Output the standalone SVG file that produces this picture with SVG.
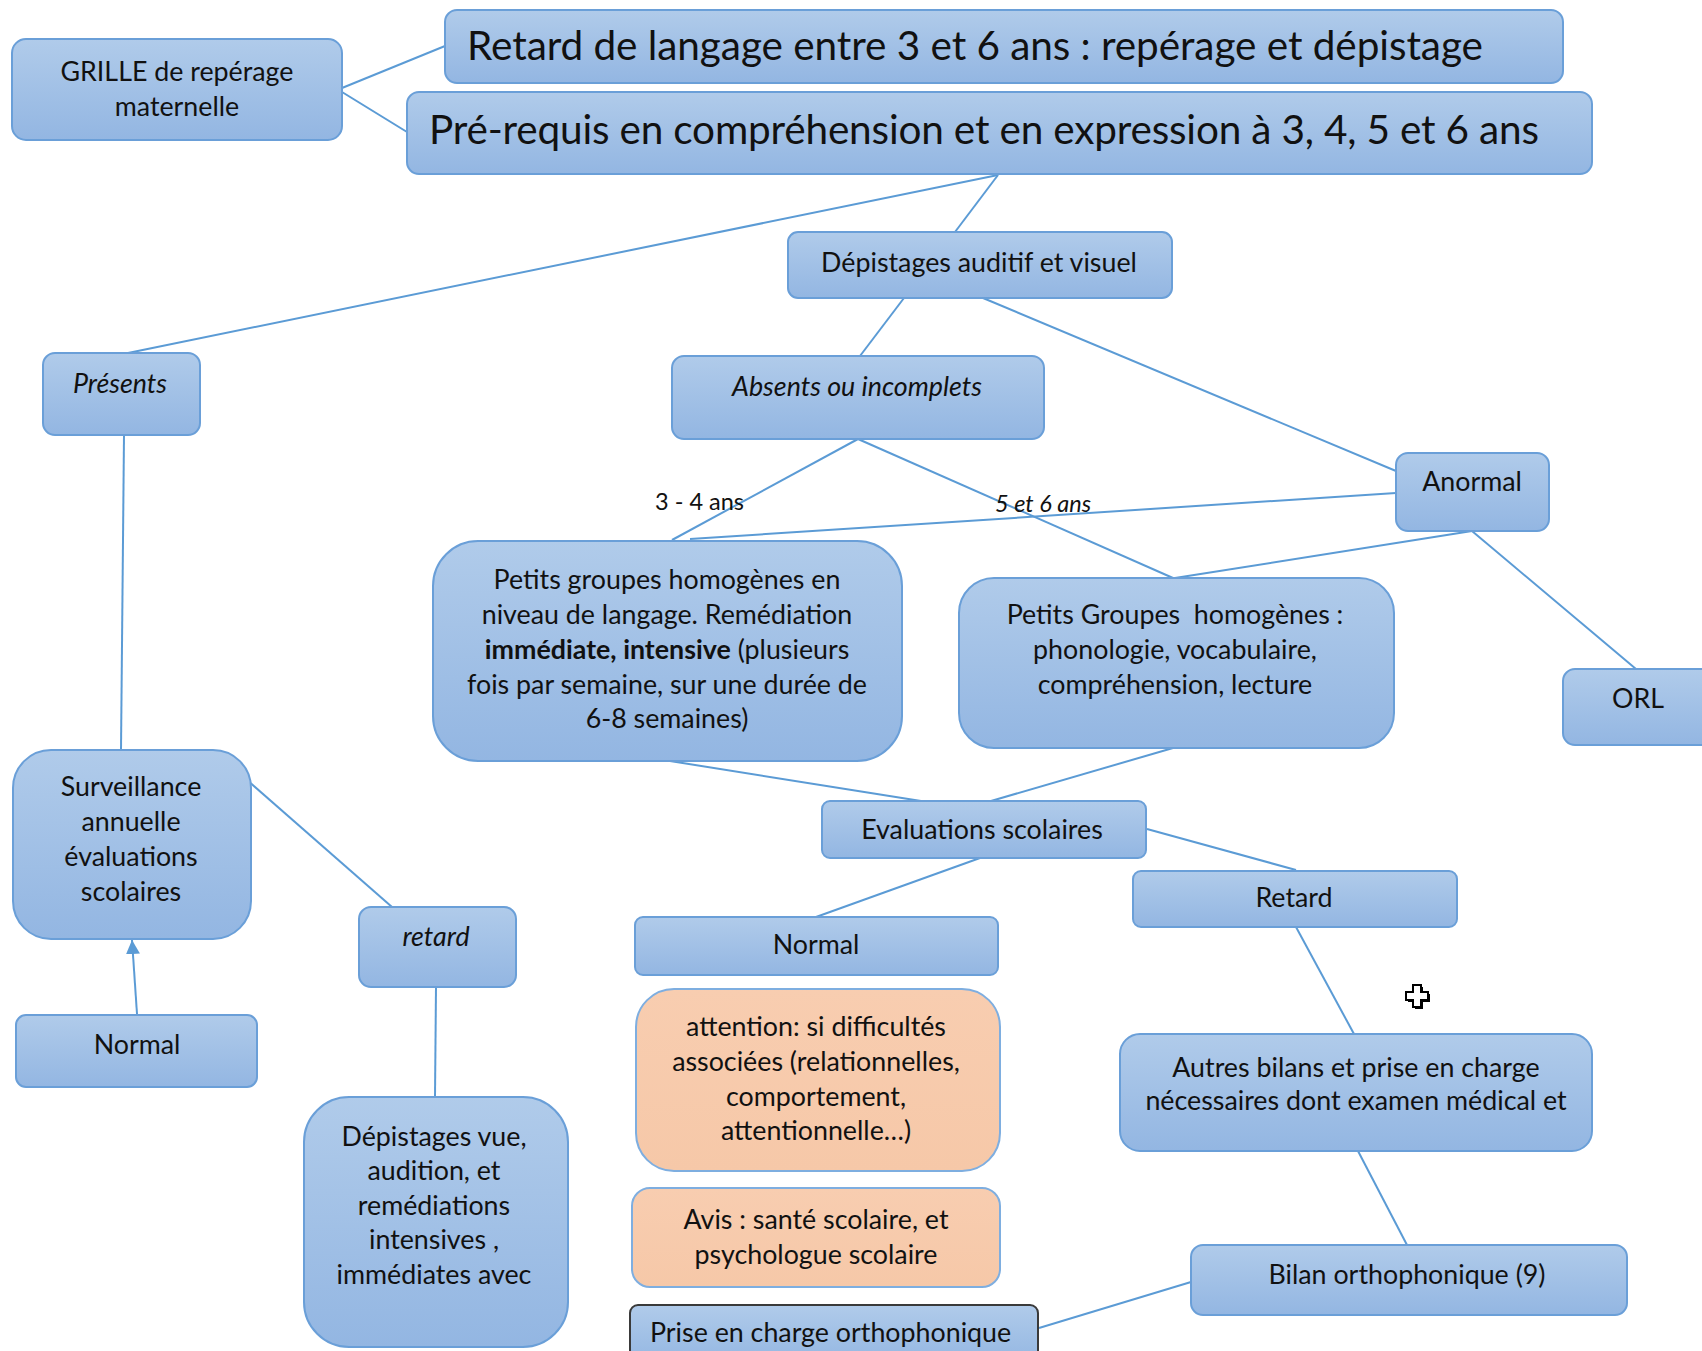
<svg xmlns="http://www.w3.org/2000/svg" width="1702" height="1351" viewBox="0 0 1702 1351">
<defs>
<linearGradient id="blue" x1="0" y1="0" x2="0" y2="1">
<stop offset="0" stop-color="#b0cbea"/>
<stop offset="1" stop-color="#93b6e2"/>
</linearGradient>
<linearGradient id="peach" x1="0" y1="0" x2="0" y2="1">
<stop offset="0" stop-color="#f8cdb0"/>
<stop offset="1" stop-color="#f6c8a8"/>
</linearGradient>
<marker id="arrow" viewBox="0 0 14 14" refX="14" refY="7" markerWidth="14" markerHeight="14" markerUnits="userSpaceOnUse" orient="auto">
<path d="M0,0 L14,7 L0,14 z" fill="#5b9bd5"/>
</marker>
</defs>
<style>
.box{fill:url(#blue);stroke:#6a9fd8;stroke-width:2}
.pbox{fill:url(#peach);stroke:#7eaee0;stroke-width:2}
.dbox{fill:url(#blue);stroke:#3a3a3a;stroke-width:2}
.t{font-family:Lato,"Liberation Sans",sans-serif;font-size:26.8px;fill:#111;text-anchor:middle}
.i{font-style:italic}
.big{font-family:Lato,"Liberation Sans",sans-serif;font-size:40.5px;fill:#111}
.lbl{font-family:Lato,"Liberation Sans",sans-serif;font-size:23.5px;fill:#111}
.c{stroke:#5b9bd5;stroke-width:2;fill:none}
</style>
<rect width="1702" height="1351" fill="#ffffff"/>
<g id="connectors">
<line class="c" x1="342" y1="88" x2="445" y2="46"/>
<line class="c" x1="342" y1="92" x2="407" y2="132"/>
<line class="c" x1="998" y1="175" x2="128" y2="353"/>
<line class="c" x1="998" y1="175" x2="955" y2="232"/>
<line class="c" x1="904" y1="298" x2="860" y2="356"/>
<line class="c" x1="983" y1="298" x2="1396" y2="471"/>
<line class="c" x1="858" y1="439" x2="672" y2="540"/>
<line class="c" x1="858" y1="439" x2="1173" y2="578"/>
<line class="c" x1="1396" y1="493" x2="690" y2="539"/>
<line class="c" x1="1472" y1="531" x2="1175" y2="578"/>
<line class="c" x1="1472" y1="531" x2="1636" y2="669"/>
<line class="c" x1="670" y1="761" x2="921" y2="801"/>
<line class="c" x1="1173" y1="748" x2="991" y2="801"/>
<line class="c" x1="980" y1="858" x2="816" y2="917"/>
<line class="c" x1="1147" y1="829" x2="1296" y2="870"/>
<line class="c" x1="1296" y1="927" x2="1354" y2="1034"/>
<line class="c" x1="1358" y1="1151" x2="1407" y2="1245"/>
<line class="c" x1="1191" y1="1282" x2="1039" y2="1328"/>
<line class="c" x1="124" y1="435" x2="121" y2="750"/>
<line class="c" x1="247" y1="780" x2="392" y2="907"/>
<line class="c" x1="137" y1="1014" x2="132" y2="940" marker-end="url(#arrow)"/>
<line class="c" x1="436" y1="987" x2="435" y2="1097"/>
<text class="lbl" x="655" y="510">3 - 4 ans</text>
<text class="lbl i" x="995" y="512">5 et 6 ans</text>
</g>
<g id="grille">
<rect class="box" x="12" y="39" width="330" height="101" rx="14"/>
<text class="t" x="177" y="81">GRILLE de repérage</text>
<text class="t" x="177" y="116">maternelle</text>
</g>
<g id="titre1">
<rect class="box" x="445" y="10" width="1118" height="73" rx="12"/>
<text class="big" x="467" y="60" textLength="1016">Retard de langage entre 3 et 6 ans : repérage et dépistage</text>
</g>
<g id="titre2">
<rect class="box" x="407" y="92" width="1185" height="82" rx="12"/>
<text class="big" x="429" y="144" textLength="1110">Pré-requis en compréhension et en expression à 3, 4, 5 et 6 ans</text>
</g>
<g id="depistages-auditif">
<rect class="box" x="788" y="232" width="384" height="66" rx="10"/>
<text class="t" x="979" y="272">Dépistages auditif et visuel</text>
</g>
<g id="presents">
<rect class="box" x="43" y="353" width="157" height="82" rx="12"/>
<text class="t i" x="120" y="393">Présents</text>
</g>
<g id="absents">
<rect class="box" x="672" y="356" width="372" height="83" rx="12"/>
<text class="t i" x="857" y="396">Absents ou incomplets</text>
</g>
<g id="anormal">
<rect class="box" x="1396" y="453" width="153" height="78" rx="12"/>
<text class="t" x="1472" y="491">Anormal</text>
</g>
<g id="orl">
<rect class="box" x="1563" y="669" width="160" height="76" rx="12"/>
<text class="t" x="1638" y="708">ORL</text>
</g>
<g id="petits-groupes-langage">
<rect class="box" x="433" y="541" width="469" height="220" rx="45"/>
<text class="t" x="667" y="589">Petits groupes homogènes en</text>
<text class="t" x="667" y="624">niveau de langage. Remédiation</text>
<text class="t" x="667" y="659"><tspan font-weight="bold">immédiate, intensive</tspan> (plusieurs</text>
<text class="t" x="667" y="694">fois par semaine, sur une durée de</text>
<text class="t" x="667" y="728">6-8 semaines)</text>
</g>
<g id="petits-groupes-phono">
<rect class="box" x="959" y="578" width="435" height="170" rx="35"/>
<text class="t" x="1175" y="624" xml:space="preserve">Petits Groupes  homogènes :</text>
<text class="t" x="1175" y="659">phonologie, vocabulaire,</text>
<text class="t" x="1175" y="694">compréhension, lecture</text>
</g>
<g id="surveillance">
<rect class="box" x="13" y="750" width="238" height="189" rx="38"/>
<text class="t" x="131" y="796">Surveillance</text>
<text class="t" x="131" y="831">annuelle</text>
<text class="t" x="131" y="866">évaluations</text>
<text class="t" x="131" y="901">scolaires</text>
</g>
<g id="retard-italique">
<rect class="box" x="359" y="907" width="157" height="80" rx="12"/>
<text class="t i" x="436" y="946">retard</text>
</g>
<g id="normal-gauche">
<rect class="box" x="16" y="1015" width="241" height="72" rx="10"/>
<text class="t" x="137" y="1054">Normal</text>
</g>
<g id="depistages-vue">
<rect class="box" x="304" y="1097" width="264" height="250" rx="45"/>
<text class="t" x="434" y="1146">Dépistages vue,</text>
<text class="t" x="434" y="1180">audition, et</text>
<text class="t" x="434" y="1215">remédiations</text>
<text class="t" x="434" y="1249">intensives ,</text>
<text class="t" x="434" y="1284">immédiates avec</text>
</g>
<g id="evaluations">
<rect class="box" x="822" y="801" width="324" height="57" rx="8"/>
<text class="t" x="982" y="839">Evaluations scolaires</text>
</g>
<g id="retard">
<rect class="box" x="1133" y="871" width="324" height="56" rx="8"/>
<text class="t" x="1294" y="907">Retard</text>
</g>
<g id="normal-milieu">
<rect class="box" x="635" y="917" width="363" height="58" rx="8"/>
<text class="t" x="816" y="954">Normal</text>
</g>
<g id="attention">
<rect class="pbox" x="636" y="989" width="364" height="182" rx="38"/>
<text class="t" x="816" y="1036">attention: si difficultés</text>
<text class="t" x="816" y="1071">associées (relationnelles,</text>
<text class="t" x="816" y="1106">comportement,</text>
<text class="t" x="816" y="1140">attentionnelle…)</text>
</g>
<g id="avis">
<rect class="pbox" x="632" y="1188" width="368" height="99" rx="18"/>
<text class="t" x="816" y="1229">Avis : santé scolaire, et</text>
<text class="t" x="816" y="1264">psychologue scolaire</text>
</g>
<g id="prise-en-charge">
<rect class="dbox" x="630" y="1305" width="408" height="60" rx="8"/>
<text class="t" x="650" y="1342" style="text-anchor:start">Prise en charge orthophonique</text>
</g>
<g id="autres-bilans">
<rect class="box" x="1120" y="1034" width="472" height="117" rx="20"/>
<text class="t" x="1356" y="1077">Autres bilans et prise en charge</text>
<text class="t" x="1356" y="1110">nécessaires dont examen médical et</text>
</g>
<g id="bilan">
<rect class="box" x="1191" y="1245" width="436" height="70" rx="12"/>
<text class="t" x="1407" y="1284">Bilan orthophonique (9)</text>
</g>
<g id="curseur">
<path d="M1413,985 h8 v7 h7 v8 h-7 v7 h-8 v-7 h-7 v-8 h7 z" fill="#000" transform="translate(2,2)"/>
<path d="M1413,985 h8 v7 h7 v8 h-7 v7 h-8 v-7 h-7 v-8 h7 z" fill="#fff" stroke="#000" stroke-width="2"/>
</g>
</svg>
